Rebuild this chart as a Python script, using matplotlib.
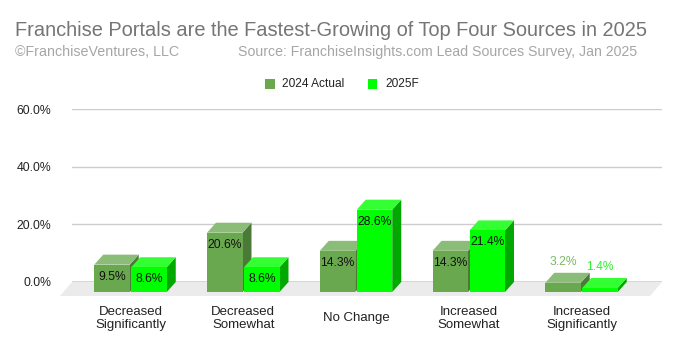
import matplotlib
matplotlib.use("Agg")
import matplotlib.pyplot as plt
from matplotlib.patches import Polygon, Rectangle

plt.rcParams['font.family'] = ['Liberation Sans', 'DejaVu Sans']

# ---- data ----
categories = ["Decreased\nSignificantly", "Decreased\nSomewhat", "No Change",
              "Increased\nSomewhat", "Increased\nSignificantly"]
series_names = ["2024 Actual", "2025F"]
actual_2024 = [9.5, 20.6, 14.3, 14.3, 3.2]
forecast_2025 = [8.6, 8.6, 28.6, 21.4, 1.4]
y_ticks = [0, 20, 40, 60]
y_tick_labels = ["0.0%", "20.0%", "40.0%", "60.0%"]

title = "Franchise Portals are the Fastest-Growing of Top Four Sources in 2025"
credit = "\u00a9FranchiseVentures, LLC"
source = "Source: FranchiseInsights.com Lead Sources Survey, Jan 2025"

# face colours: front, top, side, outside-label
styles = [
    dict(front="#6aa84f", top="#8cbd78", side="#4b7a37", label="#7db866"),
    dict(front="#00ff00", top="#33ff33", side="#00a800", label="#33ee33"),
]

# ---- layout (pixels) ----
W, H = 679, 348
fig = plt.figure(figsize=(W / 100, H / 100), dpi=100)
ax_l, ax_r, ax_t, ax_b = 72, 662, 109.3, 282
ax = fig.add_axes([ax_l / W, 1 - ax_b / H, (ax_r - ax_l) / W, (ax_b - ax_t) / H])

step_px = 112.75
x0_px = 139.5
xmin = -(x0_px - ax_l) / step_px
xmax = xmin + (ax_r - ax_l) / step_px
ax.set_xlim(xmin, xmax)
ax.set_ylim(0, 60)

px_x = (ax_r - ax_l) / (xmax - xmin)
px_y = (ax_b - ax_t) / 60.0

def ux(p):
    return p / px_x

def uy(p):
    return p / px_y

# depth of the 3D extrusion
DX, DY = ux(9), uy(10)
bar_w = ux(35.5)
gap = ux(1.5)

# floor
fdx, fdy = ux(12), uy(14)
floor = Polygon([(xmin, 0), (xmax, 0), (xmax - fdx, -fdy), (xmin - fdx, -fdy)],
                closed=True, facecolor="#ebebeb", edgecolor="none",
                clip_on=False, zorder=0.5)
ax.add_patch(floor)

# grid
for t in y_ticks:
    ax.axhline(t, color="#333333" if t == 0 else "#cccccc", lw=1, zorder=1)

for spine in ax.spines.values():
    spine.set_visible(False)
ax.set_yticks(y_ticks)
ax.set_yticklabels(y_tick_labels)
ax.tick_params(axis="y", length=0, pad=15, labelsize=8.8, labelcolor="#222222")
ax.set_xticks([])
ax.set_facecolor("none")


def draw_bar(xl, v, st, z):
    # xl, v: back-plane left edge and value; front face shifted by (-DX, -DY)
    fx, fy0, fy1 = xl - DX, -DY, v - DY
    front = Polygon([(fx, fy0), (fx + bar_w, fy0), (fx + bar_w, fy1), (fx, fy1)],
                    closed=True, facecolor=st["front"], edgecolor="none",
                    clip_on=False, zorder=z + 0.2)
    top = Polygon([(fx, fy1), (fx + bar_w, fy1), (xl + bar_w, v), (xl, v)],
                  closed=True, facecolor=st["top"], edgecolor="none",
                  clip_on=False, zorder=z + 0.1)
    side = Polygon([(fx + bar_w, fy0), (xl + bar_w, 0), (xl + bar_w, v), (fx + bar_w, fy1)],
                   closed=True, facecolor=st["side"], edgecolor="none",
                   clip_on=False, zorder=z)
    for p in (side, top, front):
        ax.add_patch(p)
    return fx + bar_w / 2, fy1


for i, cat in enumerate(categories):
    for s, vals in enumerate((actual_2024, forecast_2025)):
        v = vals[i]
        xl = i - bar_w - gap / 2 + s * (bar_w + gap)
        cx, ftop = draw_bar(xl, v, styles[s], 2 + s + i * 2)
        txt = f"{v:.1f}%"
        if v * px_y > 20:
            ax.text(cx, ftop - uy(12), txt, ha="center", va="center",
                    fontsize=8.7, color="#111111", zorder=20, clip_on=False)
        else:
            ax.text(cx, ftop + uy(20.5), txt, ha="center", va="center",
                    fontsize=8.7, color=styles[s]["label"], zorder=20, clip_on=False)
    ax.text(i - DX, -DY - uy(26.5), cat, ha="center", va="center",
            fontsize=9.5, color="#222222", linespacing=1.2, clip_on=False)

# titles
fig.text(331 / W, 1 - 36 / H, title, ha="center", va="baseline",
         fontsize=14.4, color="#757575")
fig.text(15 / W, 1 - 56 / H, credit, ha="left", va="baseline",
         fontsize=10.3, color="#a6a6a6")
fig.text(637 / W, 1 - 56 / H, source, ha="right", va="baseline",
         fontsize=10.2, color="#a6a6a6")

# legend
leg_items = [(265, 282, series_names[0], styles[0]["front"]),
             (368, 385, series_names[1], styles[1]["front"])]
for sq_x, tx, name, col in leg_items:
    fig.patches.append(Rectangle(
        (sq_x / W, 1 - 88.5 / H), 9.5 / W, 9.5 / H, transform=fig.transFigure,
        facecolor=col, edgecolor="none"))
    fig.text(tx / W, 1 - 84 / H, name, ha="left", va="center",
             fontsize=8.6, color="#222222")

fig.savefig("out.png", dpi=100)
